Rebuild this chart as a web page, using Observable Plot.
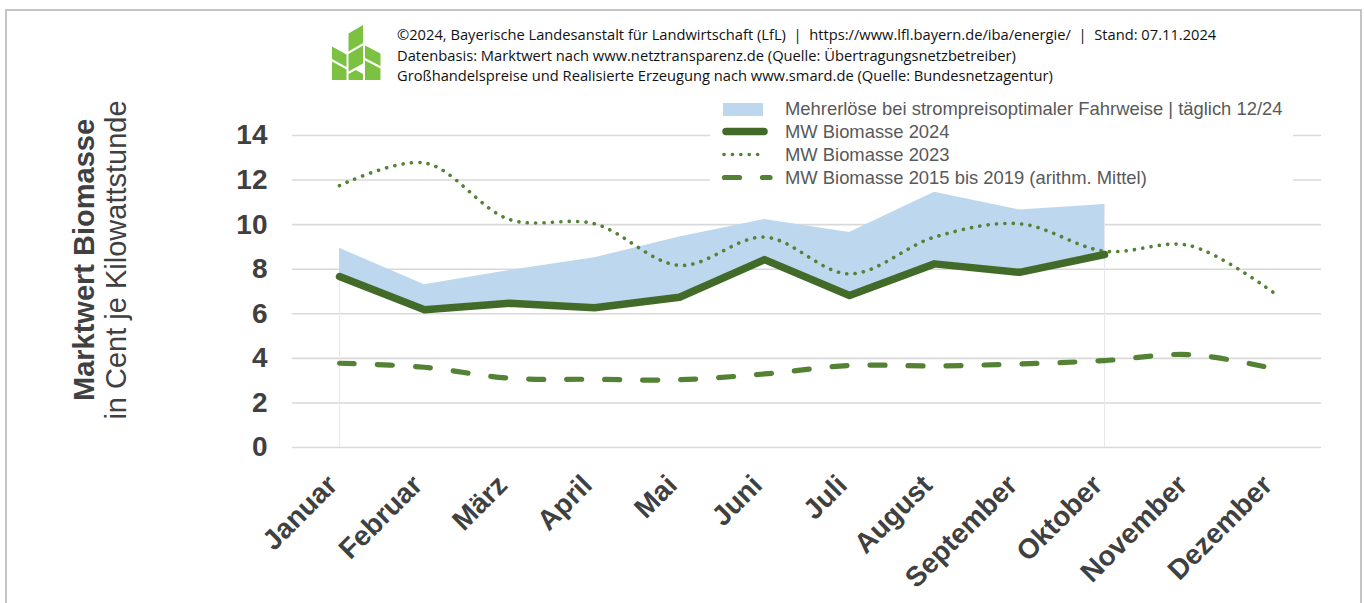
<!DOCTYPE html>
<html>
<head>
<meta charset="utf-8">
<script src="https://cdn.jsdelivr.net/npm/d3@7"></script>
<script src="https://cdn.jsdelivr.net/npm/@observablehq/plot@0.6"></script>
<style>
  html, body { margin: 0; padding: 0; background: #fff; }
  #wrap { position: relative; width: 1364px; height: 603px; overflow: hidden; background: #fff; }
  #frame { position: absolute; left: 5px; top: 9px; width: 1357px; height: 640px; border: 2px solid #c4c4c4; box-sizing: border-box; }
  #chart { position: absolute; left: 0; top: 0; }
  #header { position: absolute; left: 397px; top: 24px; font-family: "Open Sans", sans-serif; font-size: 14.7px; line-height: 20.5px; color: #111; white-space: pre; }
  #logo { position: absolute; left: 332px; top: 25px; }
  #legend { position: absolute; left: 710px; top: 95px; width: 583px; height: 94px; background: #fff;
            font-family: "Liberation Sans", Arial, sans-serif; font-size: 18.4px; color: #595959; }
  .row { position: absolute; left: 0; height: 23px; white-space: nowrap; }
  .row svg { position: absolute; left: 0; top: 0; }
  .row span { position: absolute; left: 75px; top: 0px; line-height: 23px; }
</style>
</head>
<body>
<div id="wrap">
  <div id="chart"></div>
  <div id="frame"></div>
  <svg id="logo" width="50" height="56" viewBox="0 0 50 56"></svg>
  <div id="header"></div>
  <div id="legend"></div>
</div>
<script>
// ---- data ----
const months = ["Januar", "Februar", "März", "April", "Mai", "Juni", "Juli", "August", "September", "Oktober", "November", "Dezember"];
const mw2024 = [7.67, 6.18, 6.47, 6.27, 6.74, 8.43, 6.82, 8.24, 7.86, 8.66];
const mehrerloesTop = [8.94, 7.30, 7.94, 8.51, 9.44, 10.23, 9.65, 11.45, 10.66, 10.90];
const mw2023 = [11.75, 12.77, 10.23, 10.04, 8.17, 9.44, 7.79, 9.44, 10.04, 8.81, 9.06, 6.92];
const mw1519 = [3.78, 3.60, 3.11, 3.06, 3.04, 3.30, 3.68, 3.66, 3.75, 3.90, 4.17, 3.53];
const yTicks = [0, 2, 4, 6, 8, 10, 12, 14];
const headerLines = [
  "©2024, Bayerische Landesanstalt für Landwirtschaft (LfL)  |  https://www.lfl.bayern.de/iba/energie/  |  Stand: 07.11.2024",
  "Datenbasis: Marktwert nach www.netztransparenz.de (Quelle: Übertragungsnetzbetreiber)",
  "Großhandelspreise und Realisierte Erzeugung nach www.smard.de (Quelle: Bundesnetzagentur)"
];
const legendLabels = [
  "Mehrerlöse bei strompreisoptimaler Fahrweise | täglich 12/24",
  "MW Biomasse 2024",
  "MW Biomasse 2023",
  "MW Biomasse 2015 bis 2019 (arithm. Mittel)"
];
const yTitle1 = "Marktwert Biomasse";
const yTitle2 = "in Cent je Kilowattstunde";

const colDark = "#426b29";
const colMid = "#548235";
const colBlue = "#bdd7ee";

const areaData = mw2024.map((v, i) => ({month: months[i], lo: v, hi: mehrerloesTop[i]}));
const d2024 = mw2024.map((v, i) => ({month: months[i], v}));
const d2023 = mw2023.map((v, i) => ({month: months[i], v}));
const d1519 = mw1519.map((v, i) => ({month: months[i], v}));
const edgeData = [areaData[0], areaData[areaData.length - 1]];

const font = "'Liberation Sans', Arial, sans-serif";

const plot = Plot.plot({
  width: 1364,
  height: 603,
  marginTop: 135,
  marginBottom: 156,
  marginLeft: 292,
  marginRight: 43,
  style: {fontFamily: font, background: "transparent", overflow: "visible"},
  x: {type: "point", domain: months, padding: 0.5},
  y: {domain: [0, 14]},
  marks: [
    Plot.gridY(yTicks, {stroke: "#d9d9d9", strokeOpacity: 1, strokeWidth: 1.6}),
    Plot.ruleX(edgeData, {x: "month", y1: 0, y2: "hi", stroke: "#e6e8f0", strokeWidth: 1}),
    Plot.areaY(areaData, {x: "month", y1: "lo", y2: "hi", fill: colBlue}),
    Plot.line(d1519, {x: "month", y: "v", stroke: colMid, strokeWidth: 5.2, strokeDasharray: "15 23", strokeLinecap: "round", curve: "catmull-rom"}),
    Plot.line(d2023, {x: "month", y: "v", stroke: colMid, strokeWidth: 3.6, strokeDasharray: "0.1 8.3", strokeLinecap: "round", curve: "catmull-rom"}),
    Plot.line(d2024, {x: "month", y: "v", stroke: colDark, strokeWidth: 7.5, strokeLinecap: "round", strokeLinejoin: "round"}),
    Plot.axisY(yTicks, {tickSize: 0, tickPadding: 25, fontSize: 28, fontWeight: "bold", fill: "#404040", label: null}),
    Plot.axisX({tickRotate: -45, tickSize: 0, tickPadding: 33, dx: -7, fontSize: 28, fontWeight: "bold", fill: "#404040", label: null})
  ]
});
document.getElementById("chart").appendChild(plot);

// y title
const svg = d3.select(plot);
svg.append("text")
  .attr("transform", "translate(94,260) rotate(-90)")
  .attr("text-anchor", "middle")
  .attr("font-family", font).attr("font-size", 29).attr("font-weight", "bold").attr("fill", "#404040")
  .text(yTitle1);
svg.append("text")
  .attr("transform", "translate(126,260) rotate(-90)")
  .attr("text-anchor", "middle")
  .attr("font-family", font).attr("font-size", 29).attr("fill", "#404040")
  .text(yTitle2);

// header
document.getElementById("header").textContent = headerLines.join("\n");

// logo
const logoPolys = [
  [[0,21.5],[14.5,29.5],[14.5,42],[0,34]],
  [[0,36.5],[14.5,44.5],[14.5,55],[0,55]],
  [[16.5,8.5],[31,0],[31,18],[16.5,26.5]],
  [[16.5,29],[31,20.5],[31,38.5],[16.5,46.5]],
  [[16.5,49],[23.7,45],[31,49],[31,55],[16.5,55]],
  [[33,20.5],[48.5,28.5],[48.5,41],[33,33]],
  [[33,35.5],[48.5,43.5],[48.5,55],[33,55]]
];
const logo = d3.select("#logo");
logoPolys.forEach(p => logo.append("polygon").attr("points", p.map(q => q.join(",")).join(" ")).attr("fill", "#7dc142"));

// legend
const legend = document.getElementById("legend");
const rowTops = [2, 25, 48, 71];
legendLabels.forEach((lab, i) => {
  const row = document.createElement("div");
  row.className = "row";
  row.style.top = rowTops[i] + "px";
  row.style.width = "583px";
  let sw = "";
  if (i === 0) sw = `<rect x="13" y="6" width="40" height="13" fill="${colBlue}"/>`;
  if (i === 1) sw = `<line x1="16" y1="11.5" x2="54" y2="11.5" stroke="${colDark}" stroke-width="7.5" stroke-linecap="round"/>`;
  if (i === 2) sw = `<line x1="14" y1="11.5" x2="56" y2="11.5" stroke="${colMid}" stroke-width="3.6" stroke-dasharray="0.1 8.3" stroke-linecap="round"/>`;
  if (i === 3) sw = `<line x1="14.5" y1="11.5" x2="60" y2="11.5" stroke="${colMid}" stroke-width="5.2" stroke-dasharray="15 23" stroke-linecap="round"/>`;
  row.innerHTML = `<svg width="70" height="23">${sw}</svg><span>${lab}</span>`;
  legend.appendChild(row);
});
</script>
</body>
</html>
